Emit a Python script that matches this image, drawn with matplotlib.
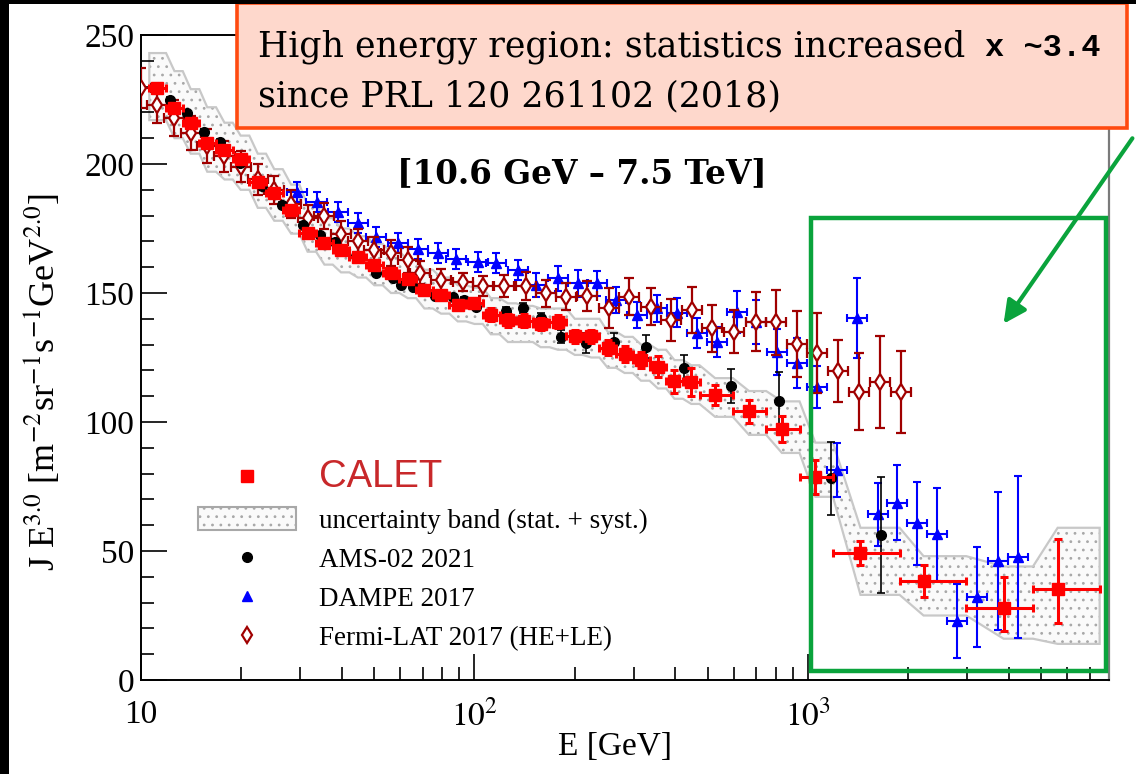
import numpy as np
import matplotlib
matplotlib.use('Agg')
import matplotlib.pyplot as plt
from matplotlib.patches import Rectangle, Patch, FancyArrowPatch
from matplotlib.lines import Line2D
from matplotlib.ticker import FixedLocator, FixedFormatter, LogLocator, NullFormatter, MultipleLocator

plt.rcParams['font.family'] = ['Liberation Serif', 'DejaVu Serif']
plt.rcParams['mathtext.fontset'] = 'stix'
plt.rcParams['hatch.linewidth'] = 0.8

# CALET (e+ + e-), bin edges in GeV and flux x E^3
calet_edges = [10.59, 11.89, 13.34, 14.96, 16.79, 18.84, 21.13, 23.71, 26.61, 29.85,
               33.50, 37.58, 42.17, 47.32, 53.09, 59.57, 66.83, 74.99, 84.14, 94.41,
               105.9, 118.9, 133.4, 149.6, 167.9, 188.4, 211.3, 237.1, 266.1, 298.5,
               335.0, 375.8, 421.7, 473.2, 595.7, 749.9, 944.1, 1189, 1884, 2985,
               4732, 7499]
calet_E = [11.2, 12.6, 14.1, 15.8, 17.8, 19.9, 22.4, 25.1, 28.2, 31.6,
           35.5, 39.8, 44.7, 50.1, 56.2, 63.1, 70.8, 79.4, 89.1, 100,
           112, 126, 141, 158, 178, 200, 224, 251, 282, 316,
           355, 398, 447, 527, 666, 836, 1053, 1438, 2223, 3863, 5612]
calet_J = [229.3, 221.6, 215.8, 208.0, 205.4, 201.9, 193.1, 188.6, 182.2, 173.4,
           169.3, 166.7, 164.1, 160.9, 157.9, 155.4, 151.2, 149.2, 145.2, 146.0,
           141.5, 139.5, 139.3, 138.0, 138.9, 133.3, 133.3, 128.7, 126.4, 124.0,
           121.5, 115.7, 115.6, 110.5, 104.1, 97.3, 78.7, 49.1, 38.5, 27.8, 35.2]
calet_err_lo = [1.5, 1.5, 1.5, 1.5, 1.5, 1.5, 1.5, 1.5, 1.5, 1.5,
                1.5, 1.5, 1.5, 1.5, 1.5, 1.5, 1.5, 1.5, 1.5, 1.5,
                2.5, 2.5, 2.5, 2.5, 2.5, 2.5, 2.5, 2.9, 3.2, 3.0,
                4.2, 4.5, 5.5, 3.9, 4.5, 5.2, 6.5, 4.5, 6.2, 8.7, 13.2]
calet_err_hi = [1.5, 1.5, 1.5, 1.5, 1.5, 1.5, 1.5, 1.5, 1.5, 1.5,
                1.5, 1.5, 1.5, 1.5, 1.5, 1.5, 1.5, 1.5, 1.5, 1.5,
                2.5, 2.5, 2.5, 2.5, 2.5, 2.5, 2.5, 2.9, 3.2, 3.0,
                4.2, 4.5, 5.5, 3.9, 4.5, 5.2, 6.5, 4.9, 6.1, 12.1, 19.5]
# systematic + statistical band, per CALET bin
band_hi = [243, 236, 229, 222, 216, 211, 204, 198, 192, 184,
           179, 175, 172, 169, 166, 163, 159, 156, 153, 152,
           148, 146, 145, 144, 144, 140, 140, 135, 133, 130,
           128, 124, 122, 117, 112, 108, 92, 59, 48, 44, 59]
band_lo = [217, 210, 204, 197, 194, 190, 183, 178, 173, 166,
           161, 158, 156, 153, 150, 148, 144, 142, 139, 138,
           134, 131, 131, 129, 128, 126, 125, 121, 119, 116,
           113, 109, 107, 102, 95, 88, 71, 33, 25, 16, 14]

# AMS-02 2021
ams_E = [12.2, 13.7, 15.5, 17.2, 19.8, 23.0, 26.4, 30.6, 34.4, 38.1,
         44.0, 50.8, 56.8, 60.3, 65.2, 76.4, 86.1, 93.3, 101.2, 124.4,
         139.5, 158.4, 181.8, 216, 262.6, 326.6, 425.3, 586.9, 821.6, 1169.5, 1662]
ams_J = [224.8, 219.7, 212.5, 208.6, 200.3, 191.5, 184.1, 176.4, 172.5, 169.9,
         164.3, 157.6, 155.8, 153.1, 152.4, 149.0, 148.3, 147.3, 144.7, 143.0,
         144.1, 140.4, 133.1, 130.5, 131.1, 129.2, 120.8, 114.0, 108.3, 78.2, 56.2]
ams_err = [1.0, 1.0, 1.0, 1.0, 1.0, 1.0, 1.0, 1.0, 1.0, 1.0,
           1.0, 1.0, 1.0, 1.0, 1.0, 1.2, 1.2, 1.3, 1.4, 1.5,
           2.0, 2.0, 2.5, 3.9, 3.3, 4.5, 5.0, 6.5, 11.0, 14.2, 22.6]

# DAMPE 2017
dampe_E = [29.3, 33.6, 39.0, 44.7, 50.8, 58.9, 67.7, 77.7, 88.3, 102.3,
           116.1, 134.8, 153.0, 177.6, 203.9, 233.9, 265.7, 307.6, 353.9, 406.3,
           466.4, 535.1, 614.2, 701.1, 806.4, 926.8, 1066, 1224, 1405, 1621,
           1851, 2125, 2439, 2799, 3213, 3707, 4254]
dampe_J = [189.3, 185.4, 181.5, 177.3, 171.8, 169.3, 167.1, 165.4, 163.3, 162.1,
           161.5, 158.9, 153.1, 155.7, 153.8, 153.8, 147.3, 141.5, 144.1, 142.4,
           134.4, 131.1, 142.7, 138.7, 127.2, 122.9, 113.6, 81.4, 140.2, 64.2,
           68.7, 60.7, 56.5, 22.9, 32.1, 46.2, 47.6]
dampe_err = [3.9, 3.9, 3.9, 3.9, 3.9, 3.9, 3.9, 3.9, 3.9, 3.9,
             3.9, 3.9, 4.5, 4.8, 5.2, 4.8, 5.2, 5.2, 5.3, 5.5,
             5.8, 5.8, 8.1, 8.5, 9.0, 9.7, 8.0, 10.3, 15.5, 12.3,
             14.5, 16.1, 18.0, 14.3, 19.4, 26.7, 31.3]
dampe_dlog = 0.03  # half bin width, decades

# Fermi-LAT 2017 (HE+LE)
fermi_E = [10.0, 11.2, 12.6, 14.1, 15.8, 17.8, 20.0, 22.4, 25.1, 28.2,
           31.6, 35.5, 39.8, 44.7, 50.1, 56.2, 63.1, 68.7, 79.5, 92.3,
           106, 123, 143, 164, 188, 218, 254, 291, 338, 388,
           450, 517, 600, 697, 801, 925, 1066, 1229, 1421, 1643, 1902]
fermi_J = [229.5, 223, 218, 212, 207, 203, 199, 194, 190, 184.5,
           179, 180, 173, 170, 166.7, 165.4, 162.8, 157.8, 155.0, 154.4,
           152.7, 152.7, 152.7, 149.9, 148.6, 148.8, 144.1, 148.6, 144.7, 139.5,
           143.4, 136.3, 135.0, 138.9, 138.6, 130.1, 126.9, 119.8, 111.7, 115.6, 111.7]
fermi_err = [7.8, 7.0, 7.0, 6.5, 6.5, 6.0, 6.0, 6.0, 5.5, 5.5,
             5.0, 5.0, 5.0, 5.0, 5.0, 5.0, 5.0, 4.5, 4.3, 3.5,
             3.9, 4.2, 5.5, 5.2, 5.2, 5.8, 7.8, 7.1, 7.1, 8.1,
             9.0, 9.0, 8.4, 11.3, 12.6, 12.8, 15.5, 12.0, 14.9, 17.9, 15.8]
fermi_dlog = 0.03

CALET_RED = '#ff0000'
FERMI_RED = '#a00000'

fig = plt.figure(figsize=(11.36, 7.74), dpi=100)
ax = fig.add_axes([141/1136, 94/774, 968/1136, 645/774])

# uncertainty band as a staircase: flat from the point to the bin's upper edge,
# then a ramp to the next point
edges = np.array(calet_edges)
E = np.array(calet_E)
ux, uy, lx, ly = [edges[0]], [band_hi[0]], [edges[0]], [band_lo[0]]
for i in range(len(E)):
    if i > 0:
        ux.append(E[i]); uy.append(band_hi[i])
        lx.append(E[i]); ly.append(band_lo[i])
    ux.append(edges[i + 1]); uy.append(band_hi[i])
    lx.append(edges[i + 1]); ly.append(band_lo[i])
px = ux + lx[::-1]
py = uy + ly[::-1]
ax.fill(px, py, facecolor='#fafafa', edgecolor='#a8a8a8', hatch='..', linewidth=0, zorder=1)
ax.fill(px, py, facecolor='none', edgecolor='#c8c8c8', linewidth=1.6, zorder=1.5)

d_E = np.array(dampe_E)
ax.errorbar(d_E, dampe_J, yerr=dampe_err,
            xerr=[d_E * (1 - 10**-dampe_dlog), d_E * (10**dampe_dlog - 1)],
            fmt='^', color='#0000ff', ms=7, elinewidth=1.5, capsize=3, capthick=1.5, zorder=3)

f_E = np.array(fermi_E)
ax.errorbar(f_E, fermi_J, yerr=fermi_err,
            xerr=[f_E * (1 - 10**-fermi_dlog), f_E * (10**fermi_dlog - 1)],
            fmt='d', color=FERMI_RED, mfc='white', mec=FERMI_RED, mew=1.6, ms=8,
            elinewidth=1.6, capsize=3.5, capthick=1.6, zorder=4)

ax.errorbar(ams_E, ams_J, yerr=ams_err, fmt='o', color='black', ms=7,
            elinewidth=1.2, capsize=3, capthick=1.2, zorder=5)

ax.errorbar(E, calet_J, yerr=[calet_err_lo, calet_err_hi],
            xerr=[E - edges[:-1], edges[1:] - E],
            fmt='s', color=CALET_RED, ms=8.5, elinewidth=2.2, capsize=3, capthick=2.2, zorder=6)

ax.set_xscale('log')
ax.set_xlim(10, 8000)
ax.set_ylim(0, 250)

ax.xaxis.set_major_locator(FixedLocator([10, 100, 1000]))
ax.xaxis.set_major_formatter(FixedFormatter(['10', '$10^2$', '$10^3$']))
ax.xaxis.set_minor_locator(LogLocator(base=10, subs=np.arange(2, 10)))
ax.xaxis.set_minor_formatter(NullFormatter())
ax.yaxis.set_major_locator(MultipleLocator(50))
ax.yaxis.set_minor_locator(MultipleLocator(10))
ax.tick_params(which='both', direction='in', top=False, right=False, width=1.2, labelsize=24)
ax.tick_params(which='major', length=19)
ax.tick_params(which='minor', length=9.5)
ax.tick_params(axis='x', pad=14)
ax.tick_params(axis='y', pad=5)
for s in ['left', 'bottom', 'top']:
    ax.spines[s].set_linewidth(1.4)
ax.spines['right'].set_color('#7a7a7a')
ax.spines['right'].set_linewidth(1.6)

ax.set_xlabel('E [GeV]', fontsize=24)
ax.xaxis.set_label_coords(0.49, -0.08)
ax.set_ylabel(r'J E$^{3.0}$ [m$^{-2}$sr$^{-1}$s$^{-1}$GeV$^{2.0}$]', fontsize=26)
ax.yaxis.set_label_coords(-0.082, 0.462)

handles = [Line2D([], [], ls='none', marker='s', color=CALET_RED, ms=8.5),
           Patch(facecolor='#fafafa', edgecolor='#a8a8a8', hatch='..', lw=1.5),
           Line2D([], [], ls='none', marker='o', color='black', ms=7),
           Line2D([], [], ls='none', marker='^', color='#0000ff', ms=7),
           Line2D([], [], ls='none', marker='d', color=FERMI_RED, mfc='white', mew=1.6, ms=8)]
labels = ['CALET', 'uncertainty band (stat. + syst.)', 'AMS-02 2021', 'DAMPE 2017',
          'Fermi-LAT 2017 (HE+LE)']
leg = ax.legend(handles, labels, loc='upper left', bbox_to_anchor=(0.059, 0.343),
                frameon=False, fontsize=19.5, handlelength=3.6, handleheight=0.95,
                handletextpad=0.85, labelspacing=0.45, borderpad=0, borderaxespad=0)
t0 = leg.get_texts()[0]
t0.set_color('#c8282a')
t0.set_fontsize(27.5)
t0.set_family('Liberation Sans')

# highlighted high-energy window
fig.add_artist(Rectangle((811/1136, (774-671)/774), 295/1136, 453/774,
                         transform=fig.transFigure, fill=False, edgecolor='#0aa33c', lw=3.2))
fig.add_artist(FancyArrowPatch((1134/1136, (774-136)/774), (1002/1136, (774-326)/774),
                               transform=fig.transFigure, arrowstyle='-|>', mutation_scale=34,
                               color='#0aa33c', lw=3.0))

fig.text(397/1136, (774-183)/774, '[10.6 GeV \u2013 7.5 TeV]', fontsize=23.5,
         family='DejaVu Serif', weight='bold', va='baseline')

# note box
fig.add_artist(Rectangle((237/1136, (774-128)/774), 890/1136, 125/774,
                         transform=fig.transFigure, facecolor='#fed8cc', edgecolor='#ff4a10', lw=2.6))
fig.text(258/1136, (774-56)/774, 'High energy region: statistics increased', fontsize=25,
         family='DejaVu Serif', va='baseline')
fig.text(985/1136, (774-56)/774, 'x ~3.4', fontsize=23, family='Liberation Mono',
         weight='bold', va='baseline')
fig.text(258/1136, (774-106)/774, 'since PRL 120 261102 (2018)', fontsize=25,
         family='DejaVu Serif', va='baseline')

# dark frame edges
fig.add_artist(Rectangle((0, 0), 9/1136, 1, transform=fig.transFigure, color='black', lw=0))
fig.add_artist(Rectangle((0, 1 - 4/774), 1, 4/774, transform=fig.transFigure, color='black', lw=0))

fig.savefig('out.png', dpi=100)
